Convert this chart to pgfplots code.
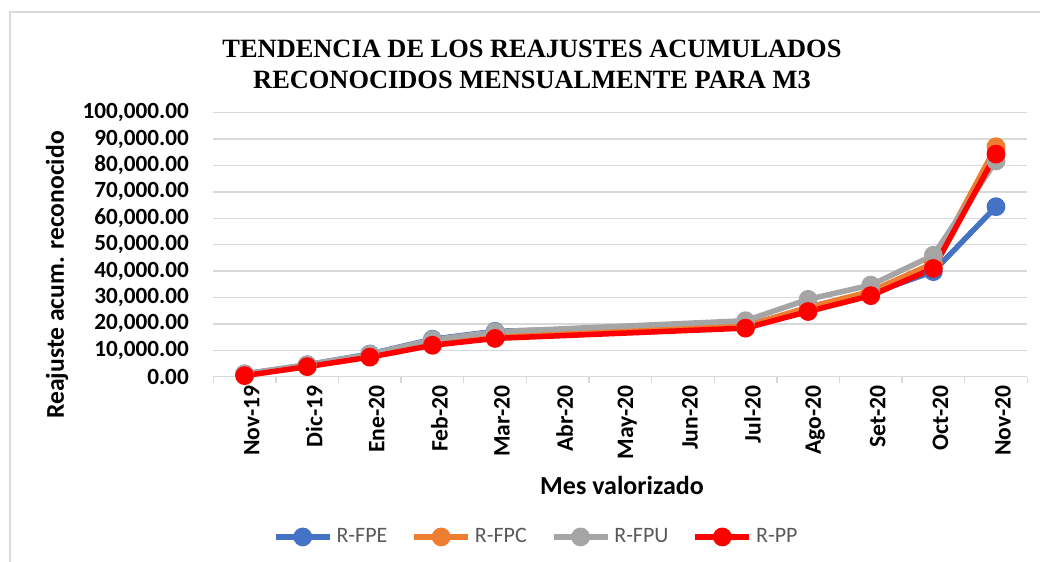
\documentclass[border=0pt]{standalone}
\usepackage{fontspec}
\setmainfont{Carlito}
\newfontfamily\titlefont{Liberation Serif}
\usepackage{pgfplots}
\pgfplotsset{compat=1.18}
\definecolor{cFPE}{HTML}{4472C4}
\definecolor{cFPC}{HTML}{ED7D31}
\definecolor{cFPU}{HTML}{A5A5A5}
\definecolor{cPP}{HTML}{FF0000}
\definecolor{gridc}{HTML}{D9D9D9}
\definecolor{legtxt}{HTML}{595959}
\begin{document}
\begin{tikzpicture}
\useasboundingbox (0,0) rectangle (520pt,281pt);
\draw[gridc, line width=0.6pt] (5pt,-5pt) -- (5pt,275pt) -- (530pt,275pt);
\node[font=\titlefont\bfseries\fontsize{13.2}{16}\selectfont, align=center] at (266pt,249pt)
  {TENDENCIA DE LOS REAJUSTES ACUMULADOS\\[-0.5pt]RECONOCIDOS MENSUALMENTE PARA M3};
\node[font=\bfseries\fontsize{12.8}{15}\selectfont, rotate=90] at (28.5pt,143.5pt) {Reajuste acum. reconocido};
\node[font=\bfseries\fontsize{13}{15}\selectfont] at (311pt,38.5pt) {Mes valorizado};
\begin{axis}[
  at={(106.65pt,92.65pt)}, anchor=south west,
  scale only axis, width=407pt, height=132pt,
  xmin=-0.5, xmax=12.5, ymin=0, ymax=100000,
  axis x line*=bottom, axis y line*=left,
  x axis line style={gridc, line width=0.7pt},
  y axis line style={draw=none},
  xtick={0,...,12},
  xticklabels={Nov-19,Dic-19,Ene-20,Feb-20,Mar-20,Abr-20,May-20,Jun-20,Jul-20,Ago-20,Set-20,Oct-20,Nov-20},
  major x tick style={draw=none},
  major y tick style={draw=none},
  minor xtick={-0.5,0.5,...,12.5},
  minor x tick style={gridc, line width=0.7pt},
  minor tick length=3pt, tick align=outside,
  xticklabel style={rotate=90, anchor=east, inner sep=0pt, yshift=-3.5pt, font=\bfseries\fontsize{11.8}{13}\selectfont},
  ytick={0,10000,...,100000},
  ymajorgrids, grid style={gridc, line width=0.7pt},
  scaled y ticks=false,
  yticklabel style={anchor=east, inner sep=0pt, xshift=-7.8pt, font=\bfseries\fontsize{11.6}{13}\selectfont,
    /pgf/number format/.cd, fixed, fixed zerofill, precision=2, 1000 sep={,}, assume math mode=true},
  every axis plot/.append style={line width=2.75pt, mark=*, mark size=3.3pt},
  legend columns=4,
  legend style={at={(0.398,-0.607)}, anchor=center, draw=none, fill=none,
    font=\fontsize{11}{13}\selectfont\color{legtxt}, inner sep=0pt,
    /tikz/every even column/.append style={column sep=10pt}},
  legend image code/.code={
    \draw[mark repeat=2, mark phase=2, #1] plot coordinates {(0pt,0pt) (13.5pt,0pt) (27pt,0pt)};
  },
]
\addplot[color=cFPE, mark options={fill=cFPE, draw=cFPE}] coordinates {
(0,1000) (1,4500) (2,8600) (3,14200) (4,17200) (8,19500) (9,25500) (10,31500) (11,39800) (12,64400)};
\addlegendentry{R-FPE}
\addplot[color=cFPC, mark options={fill=cFPC, draw=cFPC}] coordinates {
(0,900) (1,4200) (2,8100) (3,13000) (4,15800) (8,19200) (9,26300) (10,32300) (11,43000) (12,87100)};
\addlegendentry{R-FPC}
\addplot[color=cFPU, mark options={fill=cFPU, draw=cFPU}] coordinates {
(0,1100) (1,4500) (2,8500) (3,14000) (4,17000) (8,21200) (9,29300) (10,34700) (11,46000) (12,81700)};
\addlegendentry{R-FPU}
\addplot[color=cPP, mark options={fill=cPP, draw=cPP}] coordinates {
(0,400) (1,3800) (2,7400) (3,11900) (4,14500) (8,18400) (9,24700) (10,30700) (11,41000) (12,84300)};
\addlegendentry{R-PP}
\end{axis}
\end{tikzpicture}
\end{document}
